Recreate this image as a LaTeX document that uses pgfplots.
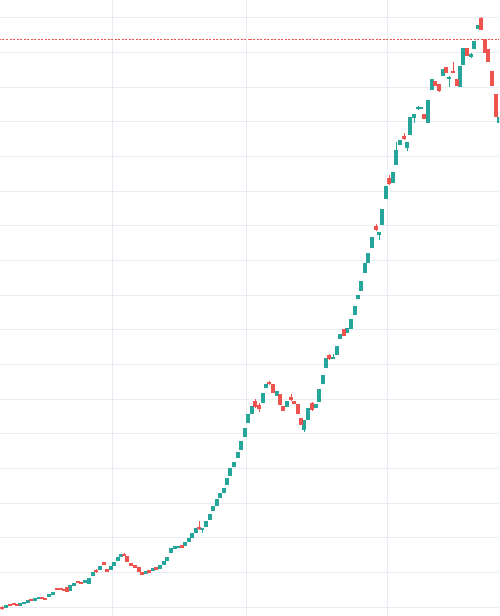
\documentclass[border=0pt]{standalone}
\usepackage{pgfplots}
\usepackage{pgfplotstable}
\pgfplotsset{compat=1.18}
\definecolor{cgreen}{RGB}{38,166,154}
\definecolor{cred}{RGB}{239,83,80}
\definecolor{gridc}{RGB}{232,237,243}

% columns: x, body top, body bottom, wick top, wick bottom
\pgfplotstableread{
x bt bb wt wb
6 11 8 11 8
20 13 10 13 10
24 14 12 14 12
28 16 13 16 13
35 18 15 18 15
39 19 17 19 17
49 22 19 22 19
53 24 21 24 21
70 31 25 31 25
74 33 30 33 30
85 36 33 36 33
89 38 32 38 32
93 44 40 44 40
100 50 46 50 46
111 50 46 50 46
114 54 50 54 50
118 59 55 59 55
121 62 59 62 59
146 45 42 45 42
153 48 45 48 45
160 51 47 51 47
164 55 51 55 51
167 59 55 59 55
171 68 63 68 63
175 70 67 70 67
178 70 68 70 68
185 74 70 74 70
189 78 74 78 74
192 83 78 83 78
196 88 83 88 83
202 88 86 88 83
206 95 89 95 89
210 102 96 102 96
213 110 105 110 105
217 117 110 117 110
220 123 118 123 118
224 128 123 128 123
227 138 131 138 131
230 148 140 148 140
234 154 149 154 149
238 164 158 164 158
241 175 166 175 166
245 188 179 188 179
248 202 193 202 193
252 210 202 210 202
263 223 213 223 213
266 232 228 232 228
277 225 220 225 220
287 215 209 215 209
304 196 186 196 184
308 208 196 208 196
316 212 208 212 208
319 227 214 227 214
323 241 232 241 232
326 258 248 258 248
333 259 257 262 257
337 270 261 270 261
340 282 277 282 277
347 288 283 288 283
351 297 287 297 287
355 310 301 310 301
358 321 317 321 317
361 335 325 335 325
365 353 343 353 343
368 363 353 363 353
372 379 368 379 368
379 384 381 384 376
382 407 391 407 391
386 430 417 430 417
393 444 433 444 433
396 466 451 474 451
400 476 471 476 471
407 474 468 474 465
410 499 481 499 481
414 502 498 502 493
418 509 507 510 506
421 509 507 509 507
428 516 493 516 493
432 537 526 537 526
443 547 540 547 540
449 539 537 540 529
460 550 529 550 529
463 568 551 568 551
471 562 559 563 558
474 575 567 575 567
478 591 587 591 587
499 499 493 499 493
}\greentab

\pgfplotstableread{
x bt bb wt wb
2 9 7 10 6
10 12 10 12 10
14 13 11 13 11
17 12 10 12 10
31 17 15 17 15
42 19 17 19 17
45 18 16 18 16
57 28 26 28 26
61 28 26 28 26
64 27 25 27 25
67 29 24 29 24
78 35 33 35 33
81 34 32 34 32
96 46 44 47 43
104 54 51 54 51
107 47 44 47 44
124 62 60 63 60
127 60 54 60 54
131 53 50 53 50
135 51 48 51 48
139 49 44 49 44
142 44 41 44 41
149 46 43 46 43
156 49 46 49 46
182 71 68 71 68
199 89 87 95 86
255 215 209 217 208
259 211 207 213 204
269 234 232 235 231
273 232 223 232 223
280 222 211 222 211
283 210 205 210 205
291 219 216 222 215
294 215 212 215 212
298 212 202 212 202
301 198 191 198 191
312 213 206 214 205
329 261 257 262 256
344 287 280 287 280
376 390 386 392 385
389 438 432 441 431
404 480 477 483 476
424 502 497 502 497
435 535 530 535 530
439 532 525 532 524
446 549 543 549 543
453 545 543 554 543
457 537 530 537 530
467 568 560 568 560
481 598 586 599 586
485 577 563 577 563
488 567 554 567 554
492 545 530 545 530
496 522 499 522 499
}\redtab

\begin{document}
\begin{tikzpicture}
\begin{axis}[
  width=499pt, height=616pt, scale only axis,
  xmin=0, xmax=499, ymin=0, ymax=616,
  axis line style={draw=none},
  tick style={draw=none},
  xtick={112,246,387},
  ytick={8.78,43.44,78.1,112.76,147.42,182.08,216.74,251.4,286.06,320.72,355.38,390.04,424.7,459.36,494.02,528.68,563.34,598},
  xticklabels={}, yticklabels={},
  grid=major,
  grid style={draw=gridc, line width=1pt},
]
% last-price dashed line
\addplot[draw=none, mark=none, forget plot,
  error bars/.cd, x dir=both, x explicit, error mark=none,
  error bar style={draw=cred, line width=1pt, dash pattern=on 2pt off 1.5pt}]
  coordinates {(249.5,576.5) +- (249.5,0)};

% wicks
\addplot[draw=none, mark=none, forget plot,
  error bars/.cd, y dir=both, y explicit, error mark=none,
  error bar style={draw=cgreen, solid, line width=1pt}]
  table[x=x, y expr={(\thisrow{wt}+\thisrow{wb})/2}, y error expr={(\thisrow{wt}-\thisrow{wb})/2}] {\greentab};
\addplot[draw=none, mark=none, forget plot,
  error bars/.cd, y dir=both, y explicit, error mark=none,
  error bar style={draw=cred, solid, line width=1pt}]
  table[x=x, y expr={(\thisrow{wt}+\thisrow{wb})/2}, y error expr={(\thisrow{wt}-\thisrow{wb})/2}] {\redtab};

% bodies
\addplot[draw=none, mark=none, forget plot,
  error bars/.cd, y dir=both, y explicit, error mark=none,
  error bar style={draw=cgreen, solid, line width=3.5pt}]
  table[x=x, y expr={(\thisrow{bt}+\thisrow{bb})/2}, y error expr={(\thisrow{bt}-\thisrow{bb})/2}] {\greentab};
\addplot[draw=none, mark=none, forget plot,
  error bars/.cd, y dir=both, y explicit, error mark=none,
  error bar style={draw=cred, solid, line width=3.5pt}]
  table[x=x, y expr={(\thisrow{bt}+\thisrow{bb})/2}, y error expr={(\thisrow{bt}-\thisrow{bb})/2}] {\redtab};
\end{axis}
\pgfresetboundingbox
\path[use as bounding box] (current axis.south west) rectangle (current axis.north east);
\end{tikzpicture}
\end{document}
